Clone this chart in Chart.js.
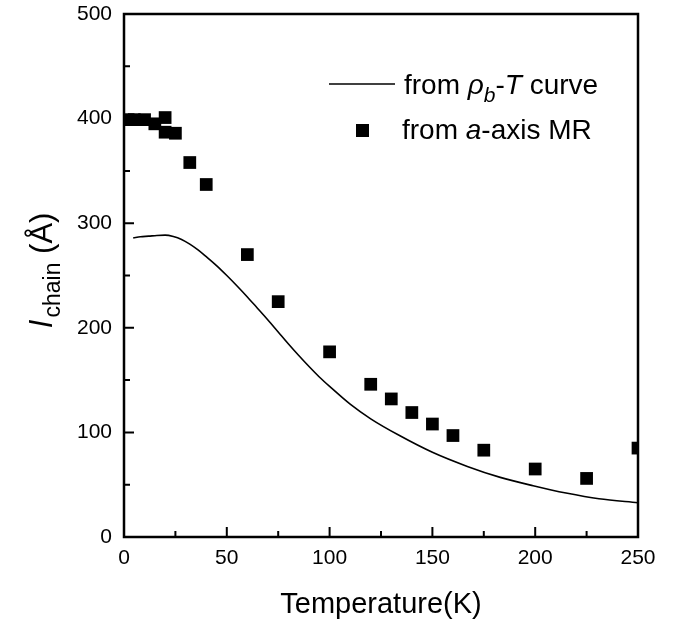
<!DOCTYPE html>
<html>
<head>
<meta charset="utf-8">
<script src="https://cdn.jsdelivr.net/npm/chart.js@4.4.1/dist/chart.umd.min.js"></script>
<style>
  html, body { margin: 0; padding: 0; background: #fff; }
  #wrap { width: 677px; height: 622px; }
</style>
</head>
<body>
<div id="wrap"><canvas id="chainChart" width="677" height="622"></canvas></div>
<script>
// l_chain tiré de la MR selon l'axe a (carrés)
const tempMR   = [2, 5, 10, 15, 20, 20, 25, 32, 40, 60, 75, 100, 120, 130, 140, 150, 160, 175, 200, 225, 250];
const lchainMR = [399, 399, 399, 395, 401, 387, 386, 358, 337, 270, 225, 177, 146, 132, 119, 108, 97, 83, 65, 56, 85];

// l_chain tiré de la courbe rho_b-T (trait plein)
const tempCurve   = [4.5, 8, 12, 16, 20, 24, 28, 32, 36, 40, 45, 50, 55, 60, 65, 70, 75, 80, 85, 90, 95, 100, 110, 120, 134, 150, 167, 183, 199, 215, 231, 250];
const lchainCurve = [286, 287, 287.6, 288.3, 288.6, 287.3, 284.5, 280, 274.5, 268, 259.5, 250, 240, 229.5, 218.5, 207.5, 196, 184.5, 173.5, 163, 153, 144, 127, 113, 97, 81, 67.5, 57, 49, 42, 36.5, 32.8];

// graduations
const xTickValues = [0, 50, 100, 150, 200, 250];
const yTickValues = [0, 100, 200, 300, 400, 500];
const xMinorTicks = [25, 75, 125, 175, 225];
const yMinorTicks = [50, 150, 250, 350, 450];

const FONT = '"Liberation Sans", Arial, Helvetica, sans-serif';

const toPoints = (xs, ys) => xs.map((x, i) => ({ x: x, y: ys[i] }));

// texte avec italiques / indices
const drawRich = (ctx, x, y, parts) => {
    let cx = x;
    parts.forEach(p => {
        ctx.font = (p.italic ? 'italic ' : '') + p.size + 'px ' + FONT;
        ctx.fillText(p.text, cx, y + (p.dy || 0));
        cx += ctx.measureText(p.text).width + (p.kern || 0);
    });
    return cx - x;
};
const richWidth = (ctx, parts) => {
    let w = 0;
    parts.forEach(p => {
        ctx.font = (p.italic ? 'italic ' : '') + p.size + 'px ' + FONT;
        w += ctx.measureText(p.text).width + (p.kern || 0);
    });
    return w;
};

// cadre, graduations vers l'intérieur, titre Y et légende
const framePlugin = {
    id: 'frame',
    afterDraw(chart) {
        const ctx = chart.ctx;
        const area = chart.chartArea;
        const xs = chart.scales.x, ys = chart.scales.y;
        ctx.save();
        ctx.strokeStyle = '#000';
        ctx.fillStyle = '#000';

        // ticks
        ctx.lineWidth = 2;
        ctx.beginPath();
        xTickValues.forEach(v => { const px = xs.getPixelForValue(v); ctx.moveTo(px, area.bottom); ctx.lineTo(px, area.bottom - 10); });
        xMinorTicks.forEach(v => { const px = xs.getPixelForValue(v); ctx.moveTo(px, area.bottom); ctx.lineTo(px, area.bottom - 6); });
        yTickValues.forEach(v => { const py = ys.getPixelForValue(v); ctx.moveTo(area.left, py); ctx.lineTo(area.left + 10, py); });
        yMinorTicks.forEach(v => { const py = ys.getPixelForValue(v); ctx.moveTo(area.left, py); ctx.lineTo(area.left + 6, py); });
        ctx.stroke();

        // cadre
        ctx.lineWidth = 2.5;
        ctx.strokeRect(area.left, area.top, area.right - area.left, area.bottom - area.top);

        // titre de l'axe Y : l_chain (Å)
        const yTitle = [
            { text: 'l', italic: true, size: 31, kern: 3 },
            { text: 'chain', size: 23, dy: 8 },
            { text: ' (Å)', size: 31 }
        ];
        ctx.translate(52, 270);
        ctx.rotate(-Math.PI / 2);
        ctx.textBaseline = 'alphabetic';
        ctx.textAlign = 'left';
        drawRich(ctx, -richWidth(ctx, yTitle) / 2, 0, yTitle);
        ctx.setTransform(1, 0, 0, 1, 0, 0);

        // légende
        ctx.lineWidth = 1.5;
        ctx.beginPath();
        ctx.moveTo(329, 84);
        ctx.lineTo(395, 84);
        ctx.stroke();
        ctx.fillRect(356, 124, 13, 13);
        drawRich(ctx, 404, 94, [
            { text: 'from ', size: 28 },
            { text: 'ρ', italic: true, size: 28 },
            { text: 'b', italic: true, size: 21, dy: 8 },
            { text: '-', size: 28 },
            { text: 'T', italic: true, size: 28 },
            { text: ' curve', size: 28 }
        ]);
        drawRich(ctx, 402, 139, [
            { text: 'from ', size: 28 },
            { text: 'a', italic: true, size: 28 },
            { text: '-axis MR', size: 28 }
        ]);
        ctx.restore();
    }
};

new Chart(document.getElementById('chainChart'), {
    type: 'scatter',
    data: {
        datasets: [
            {
                label: 'from ρb-T curve',
                data: toPoints(tempCurve, lchainCurve),
                showLine: true,
                borderColor: '#000',
                borderWidth: 1.6,
                pointRadius: 0,
                cubicInterpolationMode: 'monotone',
                clip: 0
            },
            {
                label: 'from a-axis MR',
                data: toPoints(tempMR, lchainMR),
                pointStyle: 'rect',
                pointRadius: 9,
                backgroundColor: '#000',
                borderWidth: 0,
                clip: 0
            }
        ]
    },
    options: {
        responsive: false,
        animation: false,
        layout: { padding: { left: 0, right: 39, top: 14, bottom: 0 } },
        plugins: {
            legend: { display: false },
            tooltip: { enabled: false }
        },
        scales: {
            x: {
                type: 'linear',
                min: 0,
                max: 250,
                afterBuildTicks: (scale) => { scale.ticks = xTickValues.map(v => ({ value: v })); },
                afterFit: (scale) => { scale.height = 85; scale.paddingLeft = 0; scale.paddingRight = 0; },
                grid: { display: false, drawTicks: false },
                border: { display: false },
                ticks: { color: '#000', padding: 9, font: { family: FONT, size: 21 } },
                title: {
                    display: true,
                    text: 'Temperature(K)',
                    color: '#000',
                    padding: { top: 0, bottom: 0 },
                    font: { family: FONT, size: 29 }
                }
            },
            y: {
                type: 'linear',
                min: 0,
                max: 500,
                afterBuildTicks: (scale) => { scale.ticks = yTickValues.map(v => ({ value: v })); },
                afterFit: (scale) => { scale.width = 124; scale.paddingTop = 0; scale.paddingBottom = 0; },
                grid: { display: false, drawTicks: false },
                border: { display: false },
                ticks: { color: '#000', padding: 12, font: { family: FONT, size: 21 } }
            }
        }
    },
    plugins: [framePlugin]
});
</script>
</body>
</html>
